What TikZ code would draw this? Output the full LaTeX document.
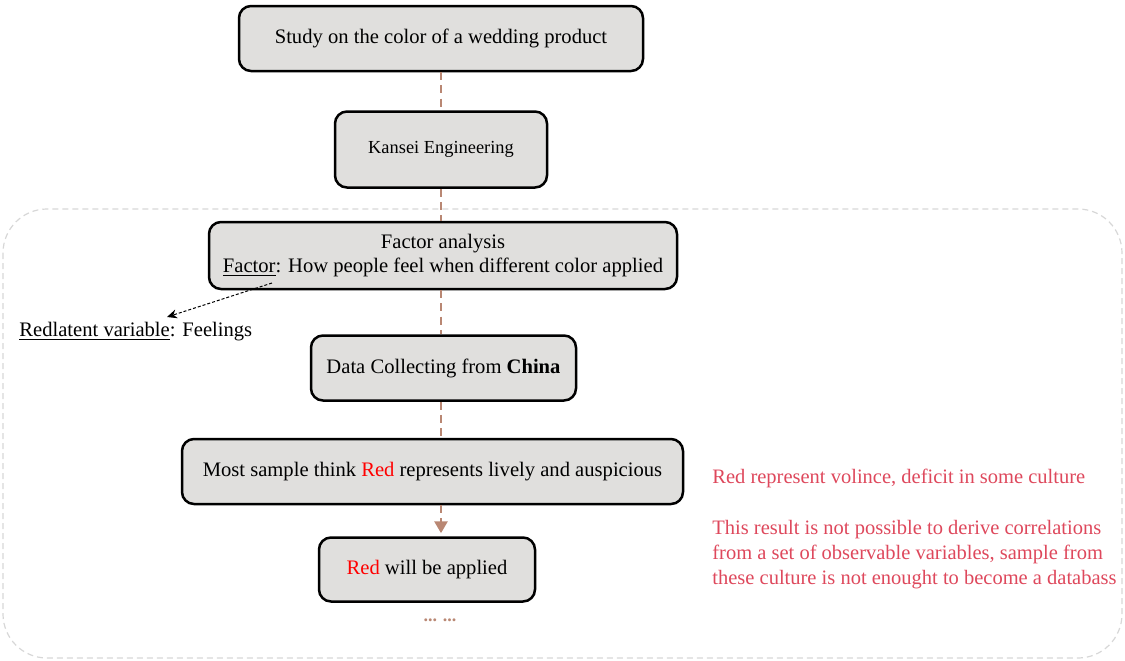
\documentclass[tikz,border=0pt]{standalone}
\usepackage{fontspec}
\setmainfont{Liberation Serif}
\usetikzlibrary{arrows.meta}
\definecolor{boxfill}{RGB}{224,223,221}
\definecolor{flowline}{RGB}{185,135,115}
\definecolor{notered}{RGB}{222,72,92}
\definecolor{framegray}{RGB}{215,215,215}
\begin{document}
\begin{tikzpicture}[x=0.5pt,y=-0.5pt,
  flowbox/.style={draw=black,line width=1.25pt,fill=boxfill,rounded corners=6pt,
    align=center,inner sep=0pt,font=\fontsize{10.3}{12.3}\selectfont},
  flowlink/.style={draw=flowline,line width=1.4pt,dash pattern=on 4pt off 2.6pt},
  note/.style={text=notered,align=left,anchor=north west,inner sep=0pt,
    font=\fontsize{10.25}{12.5}\selectfont}]
\useasboundingbox (0,0) rectangle (1125,660);

% dashed frame around the analysis stage
\draw[framegray,line width=0.6pt,dash pattern=on 3pt off 2pt,rounded corners=22pt]
  (3,209) rectangle (1122,658);

% flow steps
\node[flowbox,minimum width=202pt,minimum height=32.5pt] (study) at (441,38.5)
  {Study on the color of a wedding product};
\node[flowbox,minimum width=106pt,minimum height=38pt,font=\fontsize{9.2}{11}\selectfont]
  (kansei) at (441,149.5) {Kansei Engineering};
\node[flowbox,minimum width=234pt,minimum height=33.5pt] (factor) at (443,255.5)
  {Factor analysis\\\underline{Factor}: How people feel when different color applied};
\node[flowbox,minimum width=132.5pt,minimum height=32.5pt] (data) at (443.5,368)
  {Data Collecting from \textbf{China}};
\node[flowbox,minimum width=250.5pt,minimum height=32.5pt] (most) at (432.5,471.5)
  {Most sample think \textcolor{red}{Red} represents lively and auspicious};
\node[flowbox,minimum width=108pt,minimum height=32pt] (apply) at (427,569.5)
  {\textcolor{red}{Red} will be applied};
\node[text=flowline,font=\fontsize{9}{10}\selectfont,inner sep=0pt] (more) at (440,620) {\textbf{... ...}};

% connectors between steps
\coordinate (spine) at (441,0);
\draw[flowlink] (study.south -| spine) -- (kansei.north -| spine);
\draw[flowlink] (kansei.south -| spine) -- (factor.north -| spine);
\draw[flowlink] (factor.south -| spine) -- (data.north -| spine);
\draw[flowlink] (data.south -| spine) -- (most.north -| spine);
\draw[flowlink,-{Triangle[length=6pt,width=6.5pt]}] (most.south -| spine) -- ([yshift=1.5pt]apply.north -| spine);

% latent variable annotation
\node[anchor=north west,inner sep=0pt,font=\fontsize{10.3}{12}\selectfont] (latent) at (19,322)
  {\underline{Redlatent variable}: Feelings};
\coordinate (factorword) at (272,283);
\draw[black,line width=0.5pt,dash pattern=on 1.5pt off 1pt,-{Stealth[length=5pt,width=4.5pt]}]
  (factorword) -- (167,317);

% remarks on the result
\node[note] (remark1) at (712,469) {Red represent volince, deficit in some culture};
\node[note] (remark2) at (712,520) {This result is not possible to derive correlations\\
  from a set of observable variables, sample from\\
  these culture is not enought to become a databass};
\end{tikzpicture}
\end{document}
